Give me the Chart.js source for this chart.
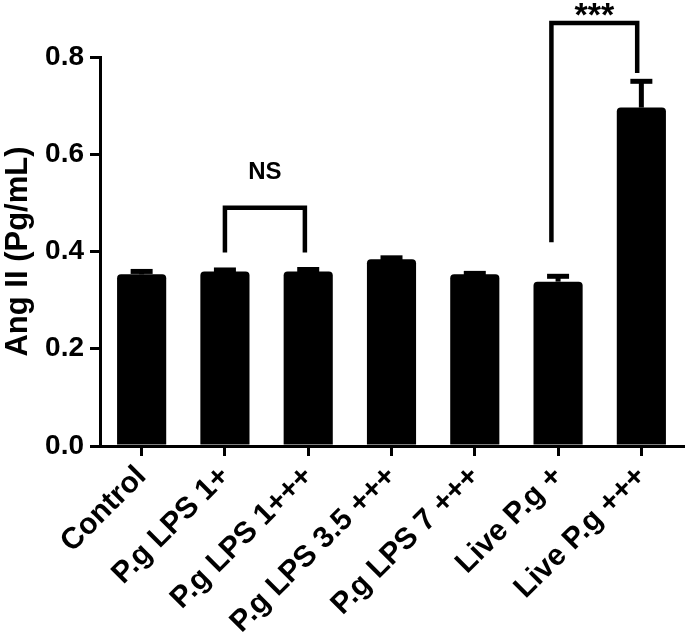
<!DOCTYPE html>
<html>
<head>
<meta charset="utf-8">
<script src="https://cdn.jsdelivr.net/npm/chart.js@4.4.1/dist/chart.umd.min.js"></script>
<style>
  html, body { margin: 0; padding: 0; background: #fff; }
  #wrap { width: 685px; height: 632px; }
</style>
</head>
<body>
<div id="wrap"><canvas id="chart"></canvas></div>
<script>
// Data
const categories = ['Control', 'P.g LPS 1+', 'P.g LPS 1+++', 'P.g LPS 3.5 +++', 'P.g LPS 7 +++', 'Live P.g +', 'Live P.g +++'];
const means = [0.353, 0.359, 0.359, 0.384, 0.353, 0.338, 0.696];
const errors = [0.006, 0.003, 0.004, 0.003, 0.002, 0.011, 0.054];
const yTicks = [0, 0.2, 0.4, 0.6, 0.8];

// Significance brackets (x in category index units, y in data units)
const bracketLabels = ['NS', '***'];
const bracketFrom = [1.0, 4.92];
const bracketTo = [1.96, 5.95];
const bracketTop = [0.490, 0.870];
const bracketLeftEnd = [0.398, 0.419];
const bracketRightEnd = [0.398, 0.767];
const bracketLabelY = [0.567, 0.898];

const FONT = '"Liberation Sans", Arial, Helvetica, sans-serif';

// Draw text centred on its ink box
function inkText(ctx, text, cx, cy) {
  const m = ctx.measureText(text);
  ctx.textAlign = 'center';
  ctx.textBaseline = 'alphabetic';
  ctx.fillText(text, cx, cy + (m.actualBoundingBoxAscent - m.actualBoundingBoxDescent) / 2);
}

const annotations = {
  id: 'annotations',
  afterDatasetsDraw(chart) {
    const ctx = chart.ctx;
    const x = chart.scales.x;
    const y = chart.scales.y;
    ctx.save();
    ctx.strokeStyle = '#000';
    ctx.fillStyle = '#000';
    ctx.lineCap = 'butt';

    // error bars (upper only)
    means.forEach((m, i) => {
      const px = x.getPixelForValue(i);
      const top = y.getPixelForValue(m + errors[i]);
      ctx.lineWidth = 5;
      ctx.beginPath();
      ctx.moveTo(px, y.getPixelForValue(m));
      ctx.lineTo(px, top);
      ctx.stroke();
      ctx.beginPath();
      ctx.moveTo(px - 11, top);
      ctx.lineTo(px + 11, top);
      ctx.stroke();
    });

    // brackets
    bracketLabels.forEach((label, i) => {
      const x1 = x.getPixelForValue(bracketFrom[i]);
      const x2 = x.getPixelForValue(bracketTo[i]);
      const yt = y.getPixelForValue(bracketTop[i]);
      ctx.lineWidth = 4.5;
      ctx.lineJoin = 'miter';
      ctx.beginPath();
      ctx.moveTo(x1, y.getPixelForValue(bracketLeftEnd[i]));
      ctx.lineTo(x1, yt);
      ctx.lineTo(x2, yt);
      ctx.lineTo(x2, y.getPixelForValue(bracketRightEnd[i]));
      ctx.stroke();
      ctx.font = label === 'NS' ? 'bold 24px ' + FONT : 'bold 34px ' + FONT;
      inkText(ctx, label, (x1 + x2) / 2, y.getPixelForValue(bracketLabelY[i]));
    });
    ctx.restore();
  }
};

new Chart(document.getElementById('chart'), {
  type: 'bar',
  data: {
    labels: categories,
    datasets: [{
      data: means,
      backgroundColor: '#000',
      borderWidth: 0,
      borderRadius: 4,
      categoryPercentage: 1,
      barPercentage: 0.59
    }]
  },
  options: {
    responsive: true,
    maintainAspectRatio: false,
    animation: false,
    layout: { padding: { top: 57, right: 2, left: 0, bottom: 0 } },
    plugins: {
      legend: { display: false },
      tooltip: { enabled: false }
    },
    scales: {
      x: {
        afterFit: (scale) => { scale.height = 186; },
        grid: {
          display: true,
          drawOnChartArea: false,
          offset: false,
          color: '#000',
          lineWidth: 3,
          tickLength: 10
        },
        border: { display: true, color: '#000', width: 3 },
        ticks: {
          color: '#000',
          maxRotation: 45,
          minRotation: 45,
          padding: 3,
          font: { family: FONT, size: 30, weight: 'bold' }
        }
      },
      y: {
        min: 0,
        max: 0.8,
        afterFit: (scale) => { scale.width = 100; },
        afterBuildTicks: (scale) => { scale.ticks = yTicks.map(v => ({ value: v })); },
        grid: {
          display: true,
          drawOnChartArea: false,
          color: '#000',
          lineWidth: 3,
          tickLength: 10
        },
        border: { display: true, color: '#000', width: 3 },
        ticks: {
          color: '#000',
          padding: 6,
          font: { family: FONT, size: 28, weight: 'bold' },
          callback: (v) => Number(v).toFixed(1)
        },
        title: {
          display: true,
          text: 'Ang II (Pg/mL)',
          color: '#000',
          padding: { top: 0, bottom: 0 },
          font: { family: FONT, size: 31, weight: 'bold' }
        }
      }
    }
  },
  plugins: [annotations]
});
</script>
</body>
</html>
